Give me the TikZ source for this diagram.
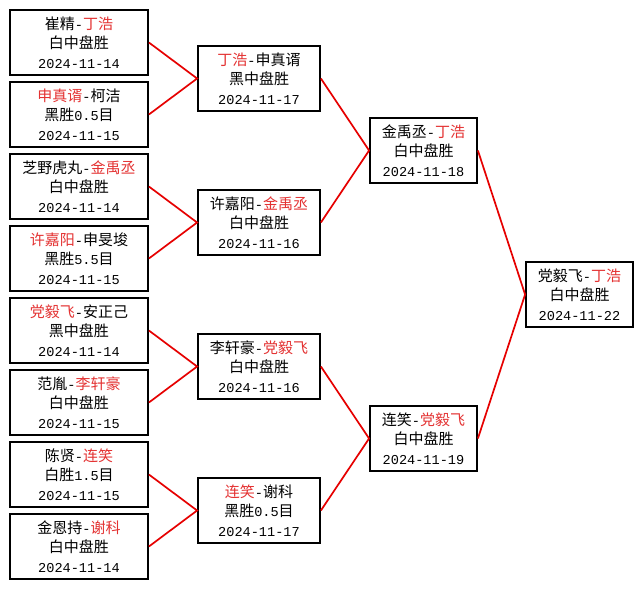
\documentclass[tikz,border=0pt]{standalone}
\usepackage{fontspec}
\setmainfont{Liberation Mono}
\newfontfamily\cjk{Noto Sans CJK SC}
\definecolor{nm}{RGB}{228,50,50}
\definecolor{ln}{RGB}{230,0,0}
\newcommand\C[1]{{\cjk\fontsize{15}{19.5}\selectfont #1}}
\newcommand\R[1]{\textcolor{nm}{\cjk\fontsize{15}{19.5}\selectfont #1}}
\tikzset{
  box/.style={draw=black, line width=1.8pt, fill=white, inner sep=0pt, align=center,
    font=\fontsize{13.6}{19.5}\selectfont, minimum height=65},
  rone/.style={box, minimum width=138},
  rtwo/.style={box, minimum width=122},
  rthree/.style={box, minimum width=107},
  conn/.style={draw=ln, line width=1.7pt}
}
\begin{document}
\begin{tikzpicture}[x=1pt,y=-1pt]
\fill[white] (0,0) rectangle (643,589);
\useasboundingbox (0,0) rectangle (643,589);
% round 1
\node[rone] (a1) at (79,42.5)  {\C{崔精}-\R{丁浩}\\\C{白中盘胜}\\2024-11-14};
\node[rone] (a2) at (79,114.5) {\R{申真谞}-\C{柯洁}\\\C{黑胜}0.5\C{目}\\2024-11-15};
\node[rone] (a3) at (79,186.5) {\C{芝野虎丸}-\R{金禹丞}\\\C{白中盘胜}\\2024-11-14};
\node[rone] (a4) at (79,258.5) {\R{许嘉阳}-\C{申旻埈}\\\C{黑胜}5.5\C{目}\\2024-11-15};
\node[rone] (a5) at (79,330.5) {\R{党毅飞}-\C{安正己}\\\C{黑中盘胜}\\2024-11-14};
\node[rone] (a6) at (79,402.5) {\C{范胤}-\R{李轩豪}\\\C{白中盘胜}\\2024-11-15};
\node[rone] (a7) at (79,474.5) {\C{陈贤}-\R{连笑}\\\C{白胜}1.5\C{目}\\2024-11-15};
\node[rone] (a8) at (79,546.5) {\C{金恩持}-\R{谢科}\\\C{白中盘胜}\\2024-11-14};
% round 2
\node[rtwo] (b1) at (259,78.5)  {\R{丁浩}-\C{申真谞}\\\C{黑中盘胜}\\2024-11-17};
\node[rtwo] (b2) at (259,222.5) {\C{许嘉阳}-\R{金禹丞}\\\C{白中盘胜}\\2024-11-16};
\node[rtwo] (b3) at (259,366.5) {\C{李轩豪}-\R{党毅飞}\\\C{白中盘胜}\\2024-11-16};
\node[rtwo] (b4) at (259,510.5) {\R{连笑}-\C{谢科}\\\C{黑胜}0.5\C{目}\\2024-11-17};
% round 3
\node[rthree] (c1) at (423.5,150.5) {\C{金禹丞}-\R{丁浩}\\\C{白中盘胜}\\2024-11-18};
\node[rthree] (c2) at (423.5,438.5) {\C{连笑}-\R{党毅飞}\\\C{白中盘胜}\\2024-11-19};
% final
\node[rthree] (d1) at (579.5,294.5) {\C{党毅飞}-\R{丁浩}\\\C{白中盘胜}\\2024-11-22};
% connectors
\draw[conn] (a1.east) -- (b1.west) -- (a2.east);
\draw[conn] (a3.east) -- (b2.west) -- (a4.east);
\draw[conn] (a5.east) -- (b3.west) -- (a6.east);
\draw[conn] (a7.east) -- (b4.west) -- (a8.east);
\draw[conn] (b1.east) -- (c1.west) -- (b2.east);
\draw[conn] (b3.east) -- (c2.west) -- (b4.east);
\draw[conn] (c1.east) -- (d1.west) -- (c2.east);
\end{tikzpicture}
\end{document}
